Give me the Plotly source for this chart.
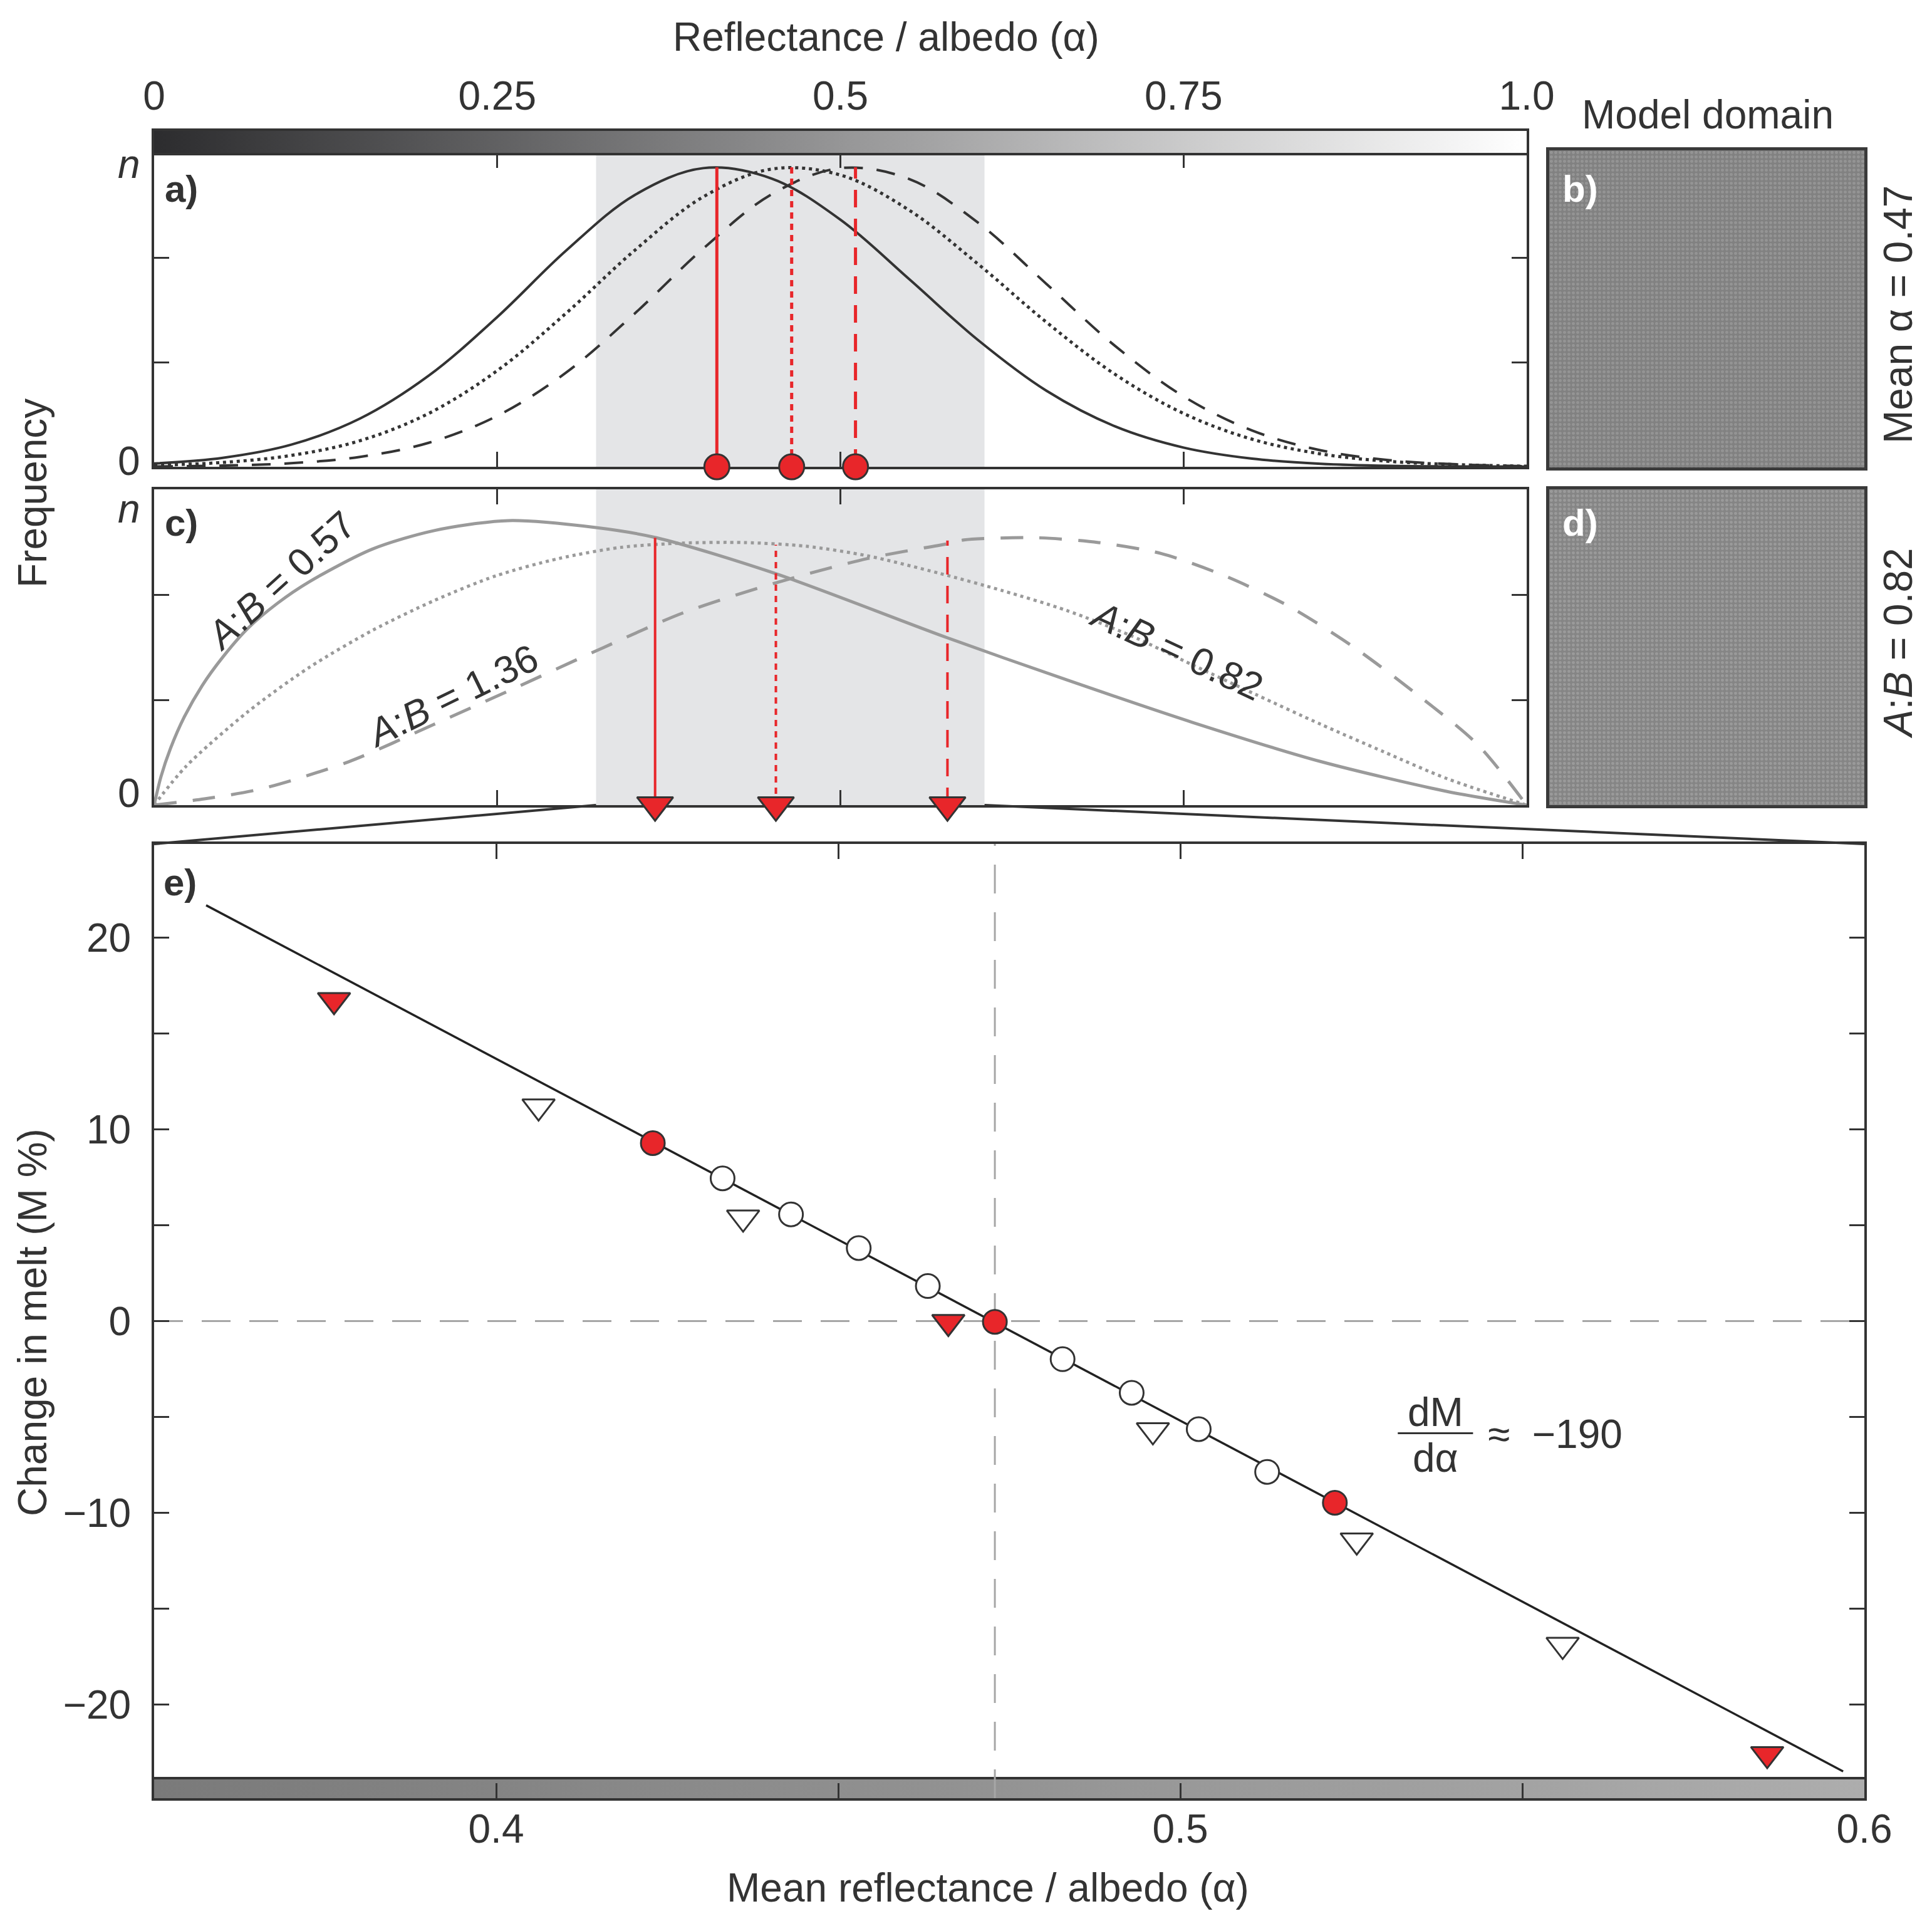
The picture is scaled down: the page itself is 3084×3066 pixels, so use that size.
import plotly.graph_objects as go

W, H = 3084, 3066
FONT = "Liberation Sans, Arial, Helvetica, sans-serif"
INK = "#333333"
RED = "#e8262a"
SHADE = "#e4e5e7"
GREYC = "#9a9a9a"
FS = 64

# ---------------- Panel a : albedo frequency distributions (peak = n = 1)
a_x = [0.0, 0.05, 0.10, 0.15, 0.20, 0.25, 0.30, 0.35, 0.40, 0.45, 0.50,
       0.55, 0.60, 0.65, 0.70, 0.75, 0.80, 0.85, 0.90, 0.95, 1.0]
a_solid = [0.011, 0.030, 0.074, 0.161, 0.304, 0.500, 0.721, 0.907, 0.997, 0.962, 0.825,
           0.627, 0.424, 0.254, 0.135, 0.064, 0.027, 0.010, 0.003, 0.001, 0.0003]
a_dotted = [0.005, 0.0145, 0.038, 0.087, 0.178, 0.321, 0.512, 0.722, 0.901, 0.994, 0.974,
            0.857, 0.678, 0.483, 0.309, 0.178, 0.092, 0.043, 0.018, 0.007, 0.002]
a_dashed = [0.001, 0.004, 0.012, 0.033, 0.080, 0.170, 0.314, 0.511, 0.728, 0.910, 0.997,
            0.961, 0.816, 0.611, 0.404, 0.235, 0.121, 0.055, 0.022, 0.008, 0.002]
a_means = [0.410, 0.4645, 0.511]
a_tops = [1.0, 1.0, 1.0]

# ---------------- Panel c : skewed distributions
c_solid_x = [0.0, 0.005, 0.012, 0.022, 0.035, 0.050, 0.068, 0.090, 0.113, 0.159, 0.204,
             0.258, 0.321, 0.366, 0.452, 0.578, 0.665, 0.757, 0.850, 0.942, 1.0]
c_solid_y = [0.0, 0.100, 0.200, 0.310, 0.420, 0.520, 0.620, 0.710, 0.785, 0.900, 0.965,
             1.0, 0.976, 0.940, 0.815, 0.588, 0.440, 0.290, 0.153, 0.048, 0.0]
c_dot_x = [0.0, 0.023, 0.068, 0.113, 0.159, 0.204, 0.249, 0.295, 0.340, 0.385, 0.430, 0.475,
           0.520, 0.572, 0.618, 0.665, 0.711, 0.757, 0.803, 0.850, 0.896, 0.942, 1.0]
c_dot_y = [0.0, 0.135, 0.327, 0.484, 0.614, 0.719, 0.806, 0.867, 0.906, 0.921, 0.923, 0.910,
           0.876, 0.815, 0.754, 0.684, 0.597, 0.492, 0.388, 0.284, 0.187, 0.093, 0.0]
c_dash_x = [0.0, 0.0366, 0.078, 0.142, 0.204, 0.264, 0.327, 0.385, 0.452, 0.520, 0.578, 0.590,
            0.642, 0.688, 0.734, 0.780, 0.826, 0.872, 0.918, 0.964, 1.0]
c_dash_y = [0.0, 0.022, 0.057, 0.153, 0.284, 0.414, 0.553, 0.675, 0.780, 0.867, 0.919, 0.932,
            0.940, 0.923, 0.884, 0.806, 0.701, 0.562, 0.397, 0.214, 0.0]
c_means = [0.365, 0.453, 0.578]
c_tops = [0.940, 0.915, 0.930]
ratio_labels = ["0.57", "1.36", "0.82"]

shade_range = [0.322, 0.605]
top_ticks = [0, 0.25, 0.5, 0.75, 1.0]
top_ticklabels = ["0", "0.25", "0.5", "0.75", "1.0"]

# ---------------- Panel e : change in melt vs mean albedo
e_redc_x = [0.4229, 0.4729, 0.5226]
e_redc_y = [9.29, -0.04, -9.48]
e_openc_x = [0.4331, 0.4431, 0.4530, 0.4631, 0.4828, 0.4929, 0.5027, 0.5127]
e_openc_y = [7.45, 5.57, 3.81, 1.83, -1.99, -3.74, -5.64, -7.87]
e_redt_x = [0.3763, 0.4661, 0.5858]
e_redt_y = [16.75, -0.05, -22.6]
e_opent_x = [0.4062, 0.4361, 0.4960, 0.5258, 0.5559]
e_opent_y = [11.2, 5.4, -5.7, -11.45, -16.9]
fit_x = [0.3576, 0.5969]
fit_y = [21.7, -23.5]
ref_alpha = 0.4729
ref_melt = 0.0
e_xrange = [0.35, 0.6]
e_yrange = [-24.9, 24.9]
band_top = -23.85
e_xticks = [0.4, 0.45, 0.5, 0.55, 0.6]
e_xticklabels = ["0.4", "", "0.5", "", "0.6"]
e_yticks = [-20, -15, -10, -5, 0, 5, 10, 15, 20]
e_yticklabels = ["\u221220", "", "\u221210", "", "0", "", "10", "", "20"]

OFF = 8  # page body margin


def py(p):
    return 1 - (p - OFF) / H


def px(p):
    return (p - OFF) / W


AX_X = [px(246), px(2437)]
BAR_Y = [py(244), py(209)]
A_Y = [py(745), py(244)]
C_Y = [py(1285), py(781)]
E_X = [px(246), px(2976)]
E_Y = [py(2870), py(1347)]
BD_X = [px(2473), px(2976)]
B_Y = [py(746), py(240)]
D_Y = [py(1285), py(781)]
A_RANGE = [0, 1.048]
C_RANGE = [0, 1.11]

fig = go.Figure()

# top colour bar
fig.add_trace(go.Scatter(x=[0, 1, 1, 0, 0], y=[0, 0, 1, 1, 0], fill="toself", mode="lines",
                         line=dict(width=0),
                         fillgradient=dict(type="horizontal",
                                           colorscale=[[0, "#2c2c2e"], [1, "#ffffff"]]),
                         xaxis="x4", yaxis="y4", hoverinfo="skip"))

# panel a curves
fig.add_trace(go.Scatter(x=a_x, y=a_solid, mode="lines", line=dict(color=INK, width=4, shape="spline"),
                         xaxis="x", yaxis="y"))
fig.add_trace(go.Scatter(x=a_x, y=a_dotted, mode="lines",
                         line=dict(color=INK, width=5, dash="5px,6px", shape="spline"), xaxis="x", yaxis="y"))
fig.add_trace(go.Scatter(x=a_x, y=a_dashed, mode="lines",
                         line=dict(color=INK, width=4, dash="30px,22px", shape="spline"), xaxis="x", yaxis="y"))
red_dashes = ["solid", "10px,8px", "28px,18px"]
for m, t, d in zip(a_means, a_tops, red_dashes):
    fig.add_trace(go.Scatter(x=[m, m], y=[0, t], mode="lines", line=dict(color=RED, width=5, dash=d),
                             xaxis="x", yaxis="y"))
fig.add_trace(go.Scatter(x=a_means, y=[0] * len(a_means), mode="markers", cliponaxis=False,
                         marker=dict(symbol="circle", size=40, color=RED, line=dict(color=INK, width=3)),
                         xaxis="x", yaxis="y"))

# panel c curves
fig.add_trace(go.Scatter(x=c_solid_x, y=c_solid_y, mode="lines",
                         line=dict(color=GREYC, width=5, shape="spline", smoothing=0.8), xaxis="x2", yaxis="y2"))
fig.add_trace(go.Scatter(x=c_dot_x, y=c_dot_y, mode="lines",
                         line=dict(color=GREYC, width=5, dash="5px,6px", shape="spline", smoothing=0.8),
                         xaxis="x2", yaxis="y2"))
fig.add_trace(go.Scatter(x=c_dash_x, y=c_dash_y, mode="lines",
                         line=dict(color=GREYC, width=5, dash="36px,26px", shape="spline", smoothing=0.8),
                         xaxis="x2", yaxis="y2"))
for m, t, d in zip(c_means, c_tops, red_dashes):
    fig.add_trace(go.Scatter(x=[m, m], y=[0, t], mode="lines", line=dict(color=RED, width=4, dash=d),
                             xaxis="x2", yaxis="y2"))
fig.add_trace(go.Scatter(x=c_means, y=[0] * len(c_means), mode="markers", cliponaxis=False,
                         marker=dict(symbol="triangle-down", size=50, color=RED, line=dict(color=INK, width=3)),
                         xaxis="x2", yaxis="y2"))

# panel b / d textures
for xa, ya, bg, fg in [("x5", "y5", "#818181", "#a8a8a8"), ("x6", "y6", "#858585", "#b0b0b0")]:
    fig.add_trace(go.Scatter(x=[0, 1, 1, 0, 0], y=[0, 0, 1, 1, 0], fill="toself", mode="lines",
                             line=dict(width=0), fillcolor=bg,
                             fillpattern=dict(shape=".", bgcolor=bg, fgcolor=fg, size=7, solidity=0.4),
                             xaxis=xa, yaxis=ya, hoverinfo="skip"))

# panel e
fig.add_trace(go.Scatter(x=[e_xrange[0], e_xrange[1], e_xrange[1], e_xrange[0], e_xrange[0]],
                         y=[e_yrange[0], e_yrange[0], band_top, band_top, e_yrange[0]],
                         fill="toself", mode="lines", line=dict(width=0),
                         fillgradient=dict(type="horizontal", colorscale=[[0, "#7a7a7a"], [1, "#adadad"]]),
                         xaxis="x3", yaxis="y3", hoverinfo="skip"))
fig.add_trace(go.Scatter(x=e_xrange, y=[band_top, band_top], mode="lines", line=dict(color=INK, width=4),
                         xaxis="x3", yaxis="y3"))
fig.add_trace(go.Scatter(x=e_xrange, y=[ref_melt, ref_melt], mode="lines",
                         line=dict(color="#a6a6a6", width=3, dash="46px,30px"), xaxis="x3", yaxis="y3"))
fig.add_trace(go.Scatter(x=[ref_alpha, ref_alpha], y=e_yrange, mode="lines",
                         line=dict(color="#a6a6a6", width=3, dash="46px,30px"), xaxis="x3", yaxis="y3"))
fig.add_trace(go.Scatter(x=fit_x, y=fit_y, mode="lines", line=dict(color="#222222", width=3.5),
                         xaxis="x3", yaxis="y3"))
fig.add_trace(go.Scatter(x=e_opent_x, y=e_opent_y, mode="markers",
                         marker=dict(symbol="triangle-down", size=45, color="white", line=dict(color=INK, width=3)),
                         xaxis="x3", yaxis="y3"))
fig.add_trace(go.Scatter(x=e_redt_x, y=e_redt_y, mode="markers",
                         marker=dict(symbol="triangle-down", size=45, color=RED, line=dict(color=INK, width=3)),
                         xaxis="x3", yaxis="y3"))
fig.add_trace(go.Scatter(x=e_openc_x, y=e_openc_y, mode="markers",
                         marker=dict(symbol="circle", size=38, color="white", line=dict(color=INK, width=3)),
                         xaxis="x3", yaxis="y3"))
fig.add_trace(go.Scatter(x=e_redc_x, y=e_redc_y, mode="markers",
                         marker=dict(symbol="circle", size=38, color=RED, line=dict(color=INK, width=3)),
                         xaxis="x3", yaxis="y3"))

axis_common = dict(showline=True, linecolor=INK, linewidth=4, mirror="allticks", ticks="inside",
                   ticklen=24, tickwidth=3, tickcolor=INK, showgrid=False, zeroline=False,
                   automargin=False, tickfont=dict(family=FONT, size=FS, color=INK))
plain = dict(showline=True, mirror=True, ticks="", showgrid=False, zeroline=False, automargin=False)
third = [A_RANGE[1] / 3, 2 * A_RANGE[1] / 3]
thirdc = [C_RANGE[1] / 3, 2 * C_RANGE[1] / 3]

fig.update_layout(
    width=W, height=H, margin=dict(l=0, r=0, t=0, b=0, pad=0, autoexpand=False),
    paper_bgcolor="white", plot_bgcolor="white", showlegend=False,
    font=dict(family=FONT, size=FS, color=INK),
    xaxis=dict(domain=AX_X, range=[0, 1], anchor="y", tickvals=[0.25, 0.5, 0.75],
               showticklabels=False, layer="below traces", **axis_common),
    yaxis=dict(domain=A_Y, range=A_RANGE, anchor="x", tickvals=third, showticklabels=False,
               layer="below traces", **axis_common),
    xaxis2=dict(domain=AX_X, range=[0, 1], anchor="y2", tickvals=[0.25, 0.5, 0.75],
                showticklabels=False, layer="below traces", **axis_common),
    yaxis2=dict(domain=C_Y, range=C_RANGE, anchor="x2", tickvals=thirdc, showticklabels=False,
                layer="below traces", **axis_common),
    xaxis3=dict(domain=E_X, range=e_xrange, anchor="y3", tickvals=e_xticks, ticktext=e_xticklabels,
                ticklabelstandoff=-10, **axis_common),
    yaxis3=dict(domain=E_Y, range=e_yrange, anchor="x3", tickvals=e_yticks, ticktext=e_yticklabels,
                ticklabelstandoff=20, **axis_common),
    xaxis4=dict(domain=AX_X, range=[0, 1], anchor="y4", side="top", linecolor=INK, linewidth=4,
                tickvals=top_ticks, ticktext=top_ticklabels, ticklabelstandoff=4,
                tickfont=dict(family=FONT, size=FS, color=INK), **plain),
    yaxis4=dict(domain=BAR_Y, range=[0, 1], anchor="x4", linecolor=INK, linewidth=4,
                showticklabels=False, **plain),
    xaxis5=dict(domain=BD_X, range=[0, 1], anchor="y5", linecolor="#3a3a3a", linewidth=5,
                showticklabels=False, **plain),
    yaxis5=dict(domain=B_Y, range=[0, 1], anchor="x5", linecolor="#3a3a3a", linewidth=5,
                showticklabels=False, **plain),
    xaxis6=dict(domain=BD_X, range=[0, 1], anchor="y6", linecolor="#3a3a3a", linewidth=5,
                showticklabels=False, **plain),
    yaxis6=dict(domain=D_Y, range=[0, 1], anchor="x6", linecolor="#3a3a3a", linewidth=5,
                showticklabels=False, **plain),
)

shapes = []
for xr, yr in [("x", "y domain"), ("x2", "y2 domain")]:
    shapes.append(dict(type="rect", xref=xr, yref=yr, x0=shade_range[0], x1=shade_range[1], y0=0, y1=1,
                       fillcolor=SHADE, line=dict(width=0), layer="below"))
# zoom connector lines from panel c shading to panel e
cx0 = AX_X[0] + shade_range[0] * (AX_X[1] - AX_X[0])
cx1 = AX_X[0] + shade_range[1] * (AX_X[1] - AX_X[0])
shapes.append(dict(type="line", xref="paper", yref="paper", x0=cx0, y0=C_Y[0], x1=E_X[0], y1=E_Y[1],
                   line=dict(color=INK, width=4)))
shapes.append(dict(type="line", xref="paper", yref="paper", x0=cx1, y0=C_Y[0], x1=E_X[1], y1=E_Y[1],
                   line=dict(color=INK, width=4)))
# fraction bar for dM/dalpha
shapes.append(dict(type="line", xref="x3", yref="y3", x0=0.5318, x1=0.5428, y0=-5.85, y1=-5.85,
                   line=dict(color=INK, width=3)))
fig.update_layout(shapes=shapes)

ann = []


def T(text, x, y, size=FS, xref="paper", yref="paper", angle=0, color=INK, bold=False,
      xanchor="center", yanchor="middle"):
    if bold:
        text = "<b>" + text + "</b>"
    ann.append(dict(text=text, x=x, y=y, xref=xref, yref=yref, showarrow=False, textangle=angle,
                    font=dict(family=FONT, size=size, color=color), xanchor=xanchor, yanchor=yanchor))


T("Reflectance / albedo (\u03b1)", px(1414), py(59))
T("Mean reflectance / albedo (\u03b1)", px(1577), py(3013))
T("Model domain", px(2726), py(183))
T("Frequency", px(52), py(787), angle=-90)
T("Change in melt (M %)", px(52), py(2111), angle=-90)
T("Mean \u03b1 = 0.47", px(3030), py(502), angle=-90)
T("<i>A</i>:<i>B</i> = 0.82", px(3030), py(1027), angle=-90)
T("a)", px(289), py(301), bold=True, size=60)
T("c)", px(289), py(834), bold=True, size=60)
T("e)", px(287), py(1408), bold=True, size=60)
T("b)", px(2522), py(301), bold=True, size=60, color="white")
T("d)", px(2522), py(834), bold=True, size=60, color="white")
# frequency axis labels
T("0", px(206), py(736))
T("<i>n</i>", px(206), py(262))
T("0", px(206), py(1266))
T("<i>n</i>", px(206), py(812))
# ratio labels in panel c
T("<i>A</i>:<i>B</i> = " + ratio_labels[0], 0.092, 0.79, xref="x2", yref="y2", angle=-42, size=62)
T("<i>A</i>:<i>B</i> = " + ratio_labels[1], 0.217, 0.385, xref="x2", yref="y2", angle=-26, size=62)
T("<i>A</i>:<i>B</i> = " + ratio_labels[2], 0.745, 0.545, xref="x2", yref="y2", angle=25, size=62)
# slope annotation
T("dM", 0.5373, -4.75, xref="x3", yref="y3")
T("d\u03b1", 0.5373, -7.15, xref="x3", yref="y3")
T("\u2248  \u2212190", 0.5448, -5.9, xref="x3", yref="y3", xanchor="left")
fig.update_layout(annotations=ann)

fig.write_html("out.html")
